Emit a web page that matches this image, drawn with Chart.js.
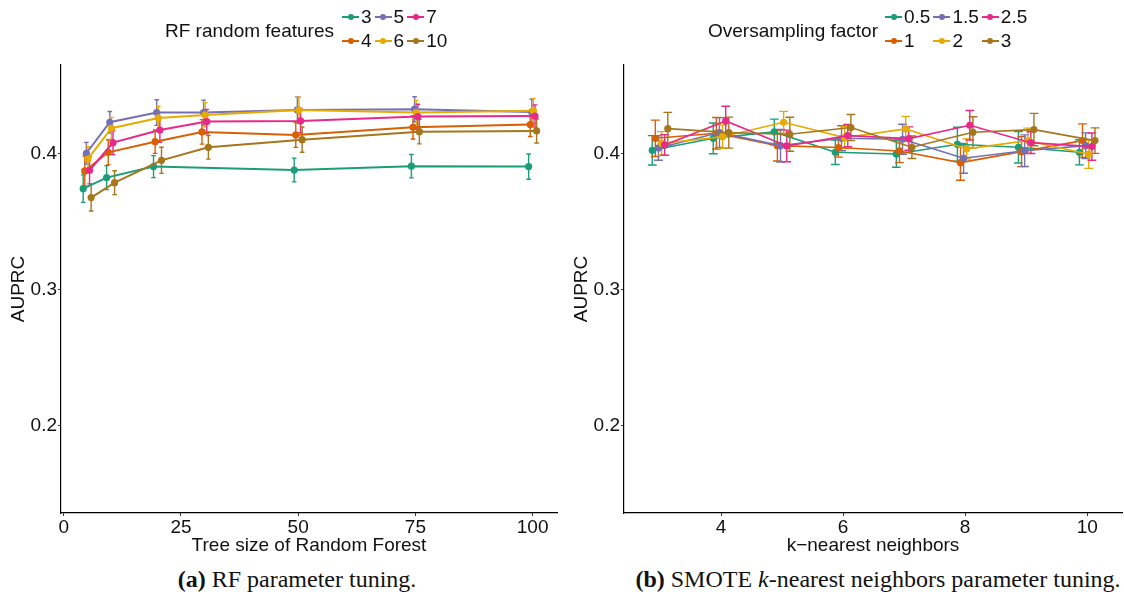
<!DOCTYPE html>
<html>
<head>
<meta charset="utf-8">
<script src="https://cdn.jsdelivr.net/npm/chart.js@4.4.1/dist/chart.umd.min.js"></script>
<style>
  body { margin: 0; background: #fff; width: 1124px; height: 603px; position: relative; overflow: hidden;
         font-family: "Liberation Sans", Arial, sans-serif; color: #111; }
  canvas { position: absolute; top: 0; }
  #rf { left: 0; }
  #knn { left: 562px; }
  .lg-title { position: absolute; font-size: 19px; line-height: 22px; white-space: nowrap; }
  .lg-grid { position: absolute; display: grid; grid-template-rows: 23.4px 23.4px; grid-auto-flow: column; column-gap: 3px; }
  .lg-item { display: flex; align-items: center; font-size: 19px; white-space: nowrap; }
  .lg-key { position: relative; width: 17px; height: 2px; margin-right: 2px; }
  .lg-key i { position: absolute; left: 5.5px; top: -2px; width: 6px; height: 6px; border-radius: 50%; }
  .cap { position: absolute; top: 566px; font-family: "Liberation Serif", "Times New Roman", serif; font-size: 24px;
         white-space: nowrap; transform: translateX(-50%); }
</style>
</head>
<body>
<canvas id="rf" width="562" height="560"></canvas>
<canvas id="knn" width="562" height="560"></canvas>
<div id="legend-rf"></div>
<div id="legend-knn"></div>
<div class="cap" style="left:297px"><b>(a)</b> RF parameter tuning.</div>
<div class="cap" style="left:878px"><b>(b)</b> SMOTE <i>k</i>-nearest neighbors parameter tuning.</div>

<script>
// (a) RF tuning: AUPRC by tree size, one series per number of random features
const rfTrees = [5, 10, 20, 30, 50, 75, 100];
const rfGroups = ['3', '4', '5', '6', '7', '10'];
const rf3  = [0.3745, 0.3826, 0.3907, null,   0.3882, 0.3910, 0.3907];
const rf4  = [0.3875, 0.4012, 0.4090, 0.4162, 0.4140, 0.4196, 0.4216];
const rf5  = [0.4005, 0.4233, 0.4304, 0.4304, 0.4324, 0.4329, 0.4309];
const rf6  = [0.3963, 0.4189, 0.4265, 0.4287, 0.4324, 0.4304, 0.4318];
const rf7  = [0.3880, 0.4083, 0.4176, 0.4238, 0.4243, 0.4275, 0.4279];
const rf10 = [0.3679, 0.3789, 0.3953, 0.4049, 0.4105, 0.4164, 0.4169];
const rf3Err  = [0.0101, 0.0088, 0.0081, null,   0.0087, 0.0086, 0.0093];
const rf4Err  = [0.0110, 0.0092, 0.0086, 0.0090, 0.0092, 0.0086, 0.0088];
const rf5Err  = [0.0080, 0.0079, 0.0094, 0.0092, 0.0096, 0.0092, 0.0093];
const rf6Err  = [0.0090, 0.0080, 0.0086, 0.0090, 0.0093, 0.0090, 0.0090];
const rf7Err  = [0.0100, 0.0088, 0.0090, 0.0090, 0.0087, 0.0090, 0.0082];
const rf10Err = [0.0098, 0.0088, 0.0096, 0.0087, 0.0093, 0.0090, 0.0088];
const rfTicksX = [0, 25, 50, 75, 100];

// (b) SMOTE k: AUPRC by k, one series per oversampling factor
const knnK = [3, 4, 5, 6, 7, 8, 9, 10];
const osGroups = ['0.5', '1', '1.5', '2', '2.5', '3'];
const os05 = [0.4027, 0.4115, 0.4162, 0.4012, 0.4000, 0.4071, 0.4049, 0.4012];
const os1  = [0.4115, 0.4152, 0.4061, 0.4047, 0.4022, 0.3936, 0.4017, 0.4098];
const os15 = [0.4044, 0.4157, 0.4061, 0.4115, 0.4108, 0.3968, 0.4024, 0.4061];
const os2  = [0.4078, 0.4127, 0.4233, 0.4120, 0.4184, 0.4037, 0.4098, 0.3998];
const os25 = [0.4066, 0.4243, 0.4059, 0.4135, 0.4113, 0.4211, 0.4083, 0.4054];
const os3  = [0.4186, 0.4157, 0.4145, 0.4194, 0.4049, 0.4159, 0.4179, 0.4098];
const os05Err = [0.0108, 0.0113, 0.0094, 0.0090, 0.0098, 0.0125, 0.0116, 0.0092];
const os1Err  = [0.0134, 0.0116, 0.0113, 0.0070, 0.0086, 0.0129, 0.0110, 0.0123];
const os15Err = [0.0090, 0.0110, 0.0120, 0.0092, 0.0110, 0.0110, 0.0116, 0.0094];
const os2Err  = [0.0086, 0.0086, 0.0080, 0.0080, 0.0092, 0.0074, 0.0092, 0.0104];
const os25Err = [0.0076, 0.0108, 0.0116, 0.0082, 0.0086, 0.0108, 0.0080, 0.0100];
const os3Err  = [0.0120, 0.0114, 0.0125, 0.0096, 0.0083, 0.0114, 0.0119, 0.0094];
const knnTicksX = [4, 6, 8, 10];

const aucTicks = [0.2, 0.3, 0.4];
const dark2 = ['#1B9E77', '#D95F02', '#7570B3', '#E6AB02', '#E7298A', '#A6761D'];

Chart.defaults.font.family = '"Liberation Sans", Arial, sans-serif';
Chart.defaults.font.size = 19;
Chart.defaults.color = '#111';

// mean ± err bars, drawn under the lines
const errorBars = {
  id: 'errorBars',
  beforeDatasetsDraw(chart, args, opts) {
    const { ctx, scales: { x, y } } = chart;
    ctx.save();
    ctx.lineWidth = opts.width;
    chart.data.datasets.forEach(ds => {
      ctx.strokeStyle = ds.borderColor;
      ds.data.forEach(p => {
        const px = x.getPixelForValue(p.x);
        const lo = y.getPixelForValue(p.y - p.e), hi = y.getPixelForValue(p.y + p.e);
        ctx.beginPath();
        ctx.moveTo(px, lo); ctx.lineTo(px, hi);
        ctx.moveTo(px - opts.cap, lo); ctx.lineTo(px + opts.cap, lo);
        ctx.moveTo(px - opts.cap, hi); ctx.lineTo(px + opts.cap, hi);
        ctx.stroke();
      });
    });
    ctx.restore();
  }
};

function makeSets(xs, series, errs, names, dodge, lineW) {
  const mid = (series.length - 1) / 2;
  return series.map((vals, i) => ({
    label: names[i],
    data: xs.map((x, j) => ({ x: x + (i - mid) * dodge, y: vals[j], e: errs[i][j] })).filter(p => p.y != null),
    borderColor: dark2[i],
    backgroundColor: dark2[i],
    borderWidth: lineW,
    pointRadius: 3.6,
    pointBorderWidth: 0,
    pointHoverRadius: 3.6,
    tension: 0,
    order: series.length - i
  }));
}

function axis(min, max, ticks, title, titlePad, extra) {
  return Object.assign({
    type: 'linear', min, max,
    afterBuildTicks: s => { s.ticks = ticks.map(v => ({ value: v })); },
    grid: { display: true, drawOnChartArea: false, drawTicks: true, tickLength: 3, color: '#333', lineWidth: 1 },
    border: { display: true, color: '#000', width: 1.2 },
    ticks: { padding: 0, color: '#111', maxRotation: 0, autoSkip: false, font: { size: 19, lineHeight: 1.2 } },
    title: { display: true, text: title, color: '#111', font: { size: 19, lineHeight: 1 }, padding: titlePad }
  }, extra);
}

function drawChart(id, xs, series, errs, names, o) {
  return new Chart(document.getElementById(id), {
    type: 'line',
    data: { datasets: makeSets(xs, series, errs, names, o.dodge, o.lineW) },
    options: {
      responsive: false, animation: false, events: [],
      layout: { autoPadding: false, padding: { left: 0, top: 65, right: o.padRight, bottom: 0 } },
      plugins: { legend: { display: false }, tooltip: { enabled: false }, errorBars: { width: 1.4, cap: o.cap } },
      scales: {
        x: axis(o.xMin, o.xMax, o.xTicks, o.xTitle, { top: 0, bottom: 4.5 }, { afterFit: s => { s.height = 47; } }),
        y: axis(0.136, 0.4654, aucTicks, 'AUPRC', { top: o.yTitlePad, bottom: 0 },
                { afterFit: s => { s.width = o.yWidth; }, ticks: { padding: 1, color: '#111', autoSkip: false, font: { size: 19 } } })
      }
    },
    plugins: [errorBars]
  });
}

drawChart('rf', rfTrees, [rf3, rf4, rf5, rf6, rf7, rf10],
  [rf3Err, rf4Err, rf5Err, rf6Err, rf7Err, rf10Err], rfGroups,
  { dodge: 0.34, lineW: 2, cap: 2.3, xMin: -0.58, xMax: 105.2, xTicks: rfTicksX,
    xTitle: 'Tree size of Random Forest', padRight: 5, yWidth: 61, yTitlePad: 9.5 });

drawChart('knn', knnK, [os05, os1, os15, os2, os25, os3],
  [os05Err, os1Err, os15Err, os2Err, os25Err, os3Err], osGroups,
  { dodge: 0.051, lineW: 1.6, cap: 4.4, xMin: 2.41, xMax: 10.57, xTicks: knnTicksX,
    xTitle: 'k\u2212nearest neighbors', padRight: 2, yWidth: 62, yTitlePad: 10.5 });

function buildLegend(id, title, names, titleLeft, keysLeft) {
  const el = document.getElementById(id);
  el.innerHTML = `<div class="lg-title" style="left:${titleLeft}px;top:20px">${title}</div>
    <div class="lg-grid" style="left:${keysLeft}px;top:5.6px">
      ${names.map((n, i) => `<div class="lg-item"><span class="lg-key" style="background:${dark2[i]}"><i style="background:${dark2[i]}"></i></span>${n}</div>`).join('')}
    </div>`;
}
buildLegend('legend-rf', 'RF random features', rfGroups, 165, 342);
buildLegend('legend-knn', 'Oversampling factor', osGroups, 708, 885);
</script>
</body>
</html>
